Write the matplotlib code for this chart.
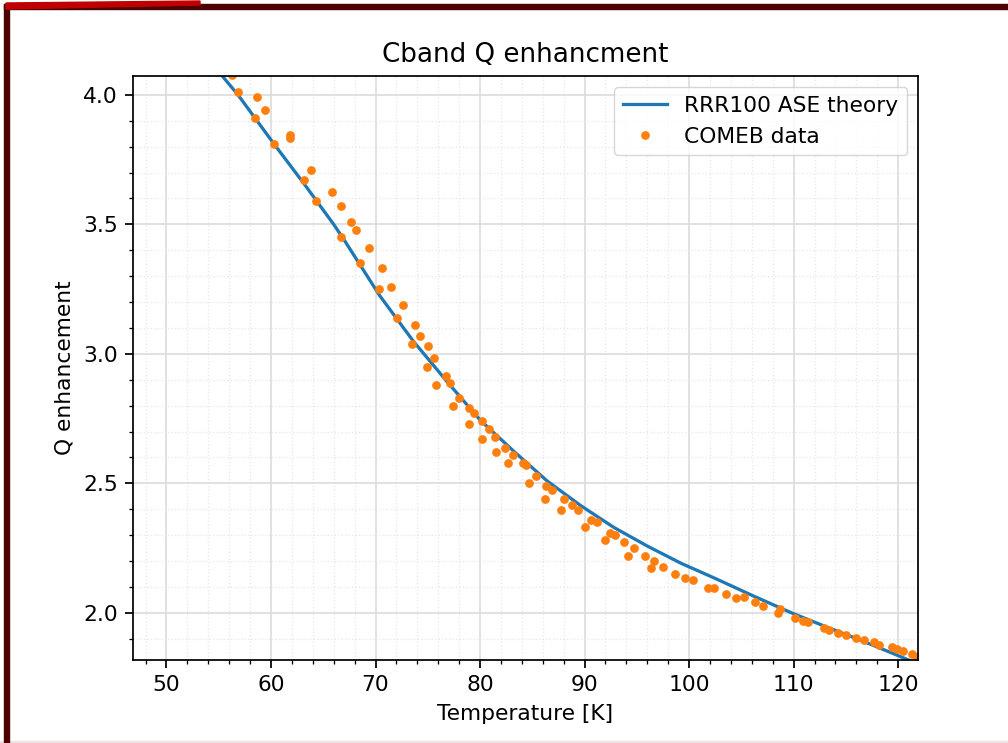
import matplotlib.pyplot as plt
from matplotlib.patches import Rectangle, Polygon
from matplotlib.ticker import MultipleLocator

# theory curve
T_theory = [55.4, 56.85, 60.3, 63.2, 66.0, 67.0, 70.4, 73.6, 76.8, 80.0,
            83.2, 86.4, 89.6, 92.8, 96.0, 99.2, 102.5, 106.0, 109.8, 113.0,
            116.5, 119.7, 121.0, 121.9]
Q_theory = [4.07, 4.00, 3.81, 3.655, 3.50, 3.44, 3.225, 3.05, 2.895, 2.745,
            2.625, 2.51, 2.415, 2.33, 2.258, 2.192, 2.133, 2.068, 2.00, 1.948,
            1.893, 1.84, 1.818, 1.805]

# measured points
T_data = [56.3, 56.85, 58.67, 59.4, 58.5, 60.3, 61.85, 61.85, 63.8, 63.2,
          64.3, 65.8, 66.7, 67.7, 68.1, 66.7, 69.4, 68.5, 70.65, 71.5,
          70.3, 72.6, 72.1, 73.8, 74.25, 73.5, 75.0, 75.6, 74.9, 76.7,
          77.15, 75.8, 78.0, 77.4, 78.9, 79.4, 78.9, 80.15, 80.9, 81.4,
          80.15, 82.4, 83.2, 81.5, 82.7, 84.1, 84.4, 85.4, 84.7, 86.3,
          86.9, 86.2, 88.0, 88.8, 89.4, 87.7, 90.6, 91.2, 90.0, 92.4,
          92.9, 92.0, 93.8, 94.7, 94.2, 95.8, 96.65, 96.4, 97.5, 98.7,
          99.65, 100.35, 101.8, 102.4, 103.5, 104.5, 105.3, 106.3, 107.1, 108.5,
          108.7, 110.1, 110.9, 111.4, 112.9, 113.35, 114.25, 115.0, 115.95, 116.7,
          117.7, 118.2, 119.4, 119.9, 120.5, 121.3, 121.8]
Q_data = [4.075, 4.01, 3.99, 3.94, 3.91, 3.81, 3.845, 3.833, 3.71, 3.67,
          3.59, 3.625, 3.57, 3.51, 3.48, 3.45, 3.41, 3.35, 3.33, 3.26,
          3.25, 3.19, 3.14, 3.11, 3.07, 3.04, 3.03, 2.983, 2.95, 2.916,
          2.887, 2.879, 2.83, 2.80, 2.79, 2.77, 2.73, 2.74, 2.71, 2.68,
          2.67, 2.635, 2.61, 2.62, 2.58, 2.58, 2.57, 2.53, 2.50, 2.49,
          2.476, 2.44, 2.44, 2.416, 2.397, 2.397, 2.36, 2.35, 2.33, 2.31,
          2.30, 2.28, 2.274, 2.25, 2.22, 2.22, 2.20, 2.175, 2.176, 2.152,
          2.134, 2.126, 2.096, 2.096, 2.071, 2.059, 2.06, 2.042, 2.028, 1.999,
          2.014, 1.98, 1.968, 1.963, 1.94, 1.932, 1.921, 1.915, 1.902, 1.894,
          1.889, 1.876, 1.869, 1.861, 1.853, 1.843, 1.83]

s = 1.57  # screenshot scale (6.4x4.8 figure blown up)

fig = plt.figure(figsize=(10.08, 7.43), dpi=100)
ax = fig.add_axes([133 / 1008, 83 / 743, 785 / 1008, 584 / 743])

ax.plot(T_theory, Q_theory, color='#1f77b4', lw=1.5 * s, label='RRR100 ASE theory')
ax.plot(T_data, Q_data, '.', color='#ff7f0e', ms=6 * s, mew=1 * s, label='COMEB data')

ax.set_xlim(46.8, 121.9)
ax.set_ylim(1.818, 4.073)
ax.xaxis.set_major_locator(MultipleLocator(10))
ax.xaxis.set_minor_locator(MultipleLocator(2))
ax.yaxis.set_major_locator(MultipleLocator(0.5))
ax.yaxis.set_minor_locator(MultipleLocator(0.1))

ax.grid(which='major', color='#dddddd', lw=0.8 * s)
ax.grid(which='minor', color='#e8e8e8', ls=':', lw=0.6 * s)
ax.tick_params(which='major', labelsize=10 * s, length=3.5 * s, width=0.8 * s, pad=3.5 * s)
ax.tick_params(which='minor', length=2 * s, width=0.6 * s)
for sp in ax.spines.values():
    sp.set_linewidth(0.8 * s)

ax.set_title('Cband Q enhancment', fontsize=12 * s, pad=6.5 * s)
ax.set_xlabel('Temperature [K]', fontsize=10 * s, labelpad=4 * s)
ax.set_ylabel('Q enhancement', fontsize=10 * s, labelpad=4 * s)
ax.legend(loc='upper right', fontsize=10 * s, borderaxespad=0.5)

# slide frame around the screenshot
fig.patches.append(Rectangle((4 / 1008, 0), 5 / 1008, 1 - 4 / 743, transform=fig.transFigure,
                             color='#4d0202', zorder=5))
fig.patches.append(Rectangle((4 / 1008, 1 - 9 / 743), 1, 5 / 743, transform=fig.transFigure,
                             color='#4d0202', zorder=5))
fig.patches.append(Polygon([(6 / 1008, 1 - 9 / 743), (6 / 1008, 1 - 3 / 743),
                            (200 / 1008, 1 - 1 / 743), (200 / 1008, 1 - 5 / 743)],
                           closed=True, transform=fig.transFigure, color='#c00000', zorder=6))
fig.patches.append(Rectangle((0, 0), 1, 2 / 743, transform=fig.transFigure,
                             color='#eee2e4', zorder=4))

fig.savefig('out.png', dpi=100)
